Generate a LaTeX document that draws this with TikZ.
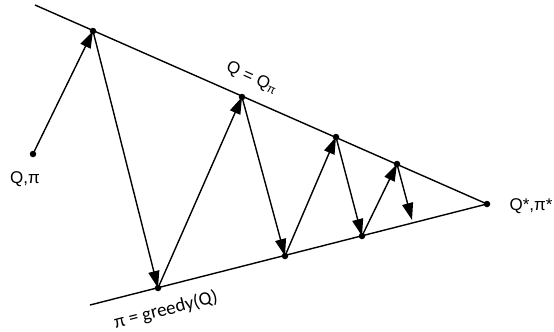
\documentclass[tikz,border=0pt]{standalone}
\usepackage{fontspec}
\setmainfont{Liberation Sans}
\newfontfamily\greedyfont{Carlito}
\usetikzlibrary{arrows.meta,calc}
\tikzset{
  every picture/.style={font=\fontsize{17}{20}\selectfont},
  boundline/.style={draw=black,line width=1.4pt},
  stepline/.style={draw=black,line width=1.4pt,
    -{Triangle[length=17pt,width=11pt]}},
  dot/.style={circle,fill=black,inner sep=0pt,minimum size=6.5pt},
}

\begin{document}
\begin{tikzpicture}[x=1pt,y=-1pt]
  % the two bounds meet at the fixed point
  \coordinate (qa) at (35,5);
  \coordinate (pa) at (90,305);
  \coordinate (star) at (487,204);
  \draw[boundline] (qa)--(star)--(pa);
  % points on the value line and on the policy line
  \coordinate (start) at (33,154);
  \coordinate (q1) at (93,31);
  \coordinate (q2) at (242,97);
  \coordinate (q3) at (336,137);
  \coordinate (q4) at (397,164);
  \coordinate (g1) at (158,288);
  \coordinate (g2) at (285,256);
  \coordinate (g3) at (362,236);
  \coordinate (g4) at (412,220);
  \draw[stepline] (start)--(q1);
  \draw[stepline] (q1)--(g1);
  \draw[stepline] (g1)--(q2);
  \draw[stepline] (q2)--(g2);
  \draw[stepline] (g2)--(q3);
  \draw[stepline] (q3)--(g3);
  \draw[stepline] (g3)--(q4);
  \draw[stepline] (q4)--(g4);
  \foreach \p in {start,q1,q2,q3,q4,g1,g2,g3,star}
    \node[dot] at (\p) {};
  \node[inner sep=0pt] (startlabel) at (25,179) {Q,π};
  \node[inner sep=0pt] (starlabel) at (531,206) {Q*,π*};
  \node[rotate=-23.8,inner sep=0pt] (qlabel) at (252,78) {Q = Q\textsubscript{π}};
  \node[rotate=14.3,inner sep=0pt,font=\greedyfont\fontsize{19}{22}\selectfont]
    (plabel) at (166,310) {π = greedy(Q)};
  \path[use as bounding box] (0,0) rectangle (554,331);
\end{tikzpicture}
\end{document}
